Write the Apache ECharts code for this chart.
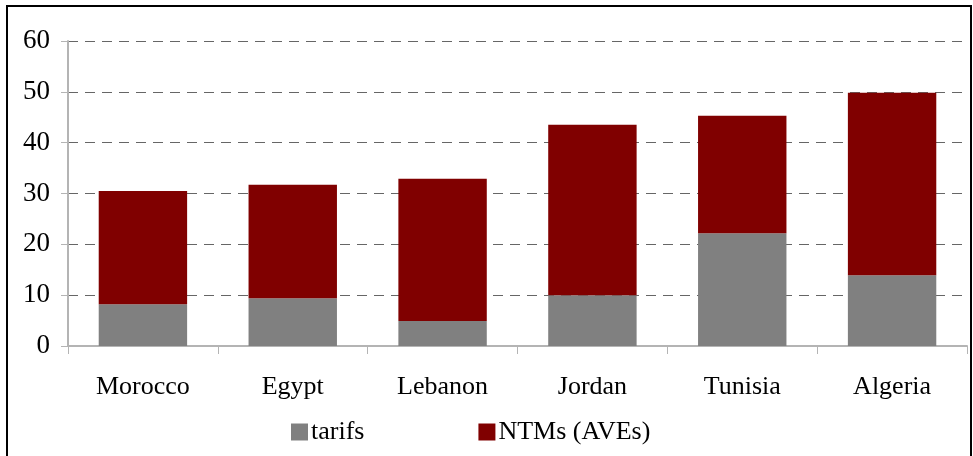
<!DOCTYPE html>
<html>
<head>
<meta charset="utf-8">
<script src="https://cdn.jsdelivr.net/npm/echarts@6/dist/echarts.min.js"></script>
<style>
html,body{margin:0;padding:0;background:#fff;}
#chart{width:973px;height:456px;}
</style>
</head>
<body>
<div id="chart"></div>
<script>
const categories = ['Morocco', 'Egypt', 'Lebanon', 'Jordan', 'Tunisia', 'Algeria'];
const tarifs = [8.2, 9.4, 4.9, 10.0, 22.2, 13.9];
const ntms = [22.3, 22.3, 28.0, 33.5, 23.1, 35.9];
const yTicks = [0, 10, 20, 30, 40, 50, 60];
const seriesNames = ['tarifs', 'NTMs (AVEs)'];

const font = '"Liberation Serif", "Times New Roman", serif';
const chart = echarts.init(document.getElementById('chart'), null, {renderer: 'canvas'});
chart.setOption({
  animation: false,
  backgroundColor: '#fff',
  textStyle: {fontFamily: font},
  graphic: [{
    type: 'rect',
    shape: {x: 7, y: 6, width: 964, height: 470},
    style: {fill: 'none', stroke: '#000', lineWidth: 2},
    silent: true
  }],
  grid: {left: 68, right: 6, top: 41, bottom: 110, containLabel: false},
  legend: {
    data: seriesNames,
    left: 286, top: 414,
    itemWidth: 17, itemHeight: 17, itemGap: 114,
    icon: 'rect',
    textStyle: {fontFamily: font, fontSize: 26, color: '#000', padding: [0, 0, 0, -2]}
  },
  xAxis: {
    type: 'category',
    data: categories,
    axisLine: {lineStyle: {color: '#b4b4b4', width: 2}},
    axisTick: {show: true, alignWithLabel: false, length: 8, lineStyle: {color: '#b4b4b4', width: 1}},
    axisLabel: {fontFamily: font, fontSize: 26, color: '#000', margin: 28}
  },
  yAxis: {
    type: 'value',
    min: yTicks[0], max: yTicks[yTicks.length - 1], interval: 10,
    axisLine: {show: true, lineStyle: {color: '#b4b4b4', width: 2}},
    axisTick: {show: true, length: 7, lineStyle: {color: '#b4b4b4', width: 1}},
    axisLabel: {fontFamily: font, fontSize: 27, color: '#000', margin: 18},
    splitLine: {show: true, lineStyle: {color: '#666', width: 1, type: [10, 7]}}
  },
  series: [
    {name: seriesNames[0], type: 'bar', stack: 'a', data: tarifs, barWidth: '59%', itemStyle: {color: '#808080'}},
    {name: seriesNames[1], type: 'bar', stack: 'a', data: ntms, barWidth: '59%', itemStyle: {color: '#800000'}}
  ]
});
</script>
</body>
</html>
